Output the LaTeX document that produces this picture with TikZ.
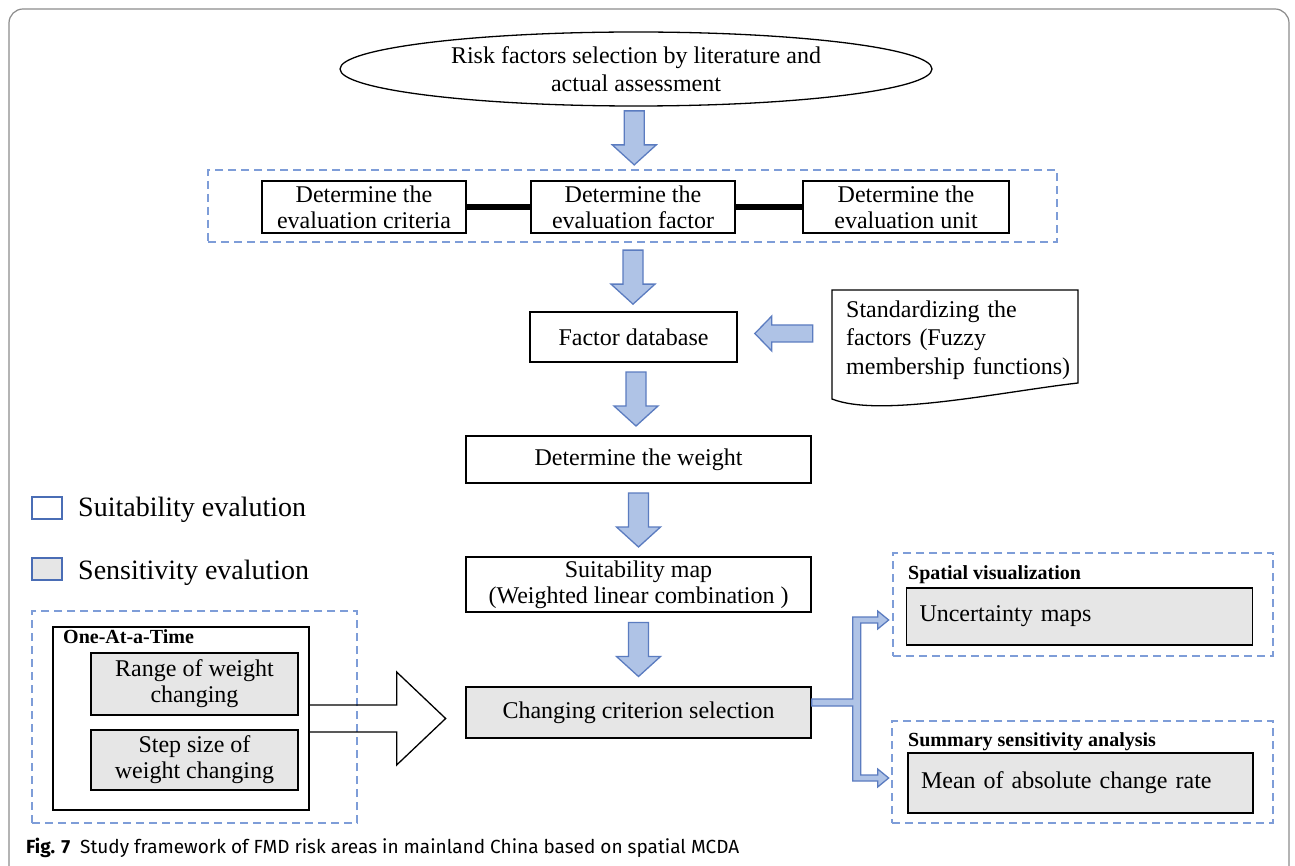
\documentclass[tikz,border=0pt]{standalone}
\usepackage{fontspec}
\setmainfont{Liberation Serif}
\newfontfamily\capfont{Fira Sans}
\usetikzlibrary{shapes.geometric,calc}
\definecolor{arrfill}{HTML}{AFC3E6}
\definecolor{arrdraw}{HTML}{5B7CC0}
\definecolor{dashcol}{HTML}{7E9DD8}
\definecolor{boxgray}{HTML}{E6E6E6}
\definecolor{legblue}{HTML}{4A6DB5}
\definecolor{framecol}{HTML}{8C8C8C}
\newcommand\downblk[1]{\draw[blk] #1 ++(-10,-27) -- ++(20,0) -- ++(0,34) -- ++(12,0) -- ++(-22,20) -- ++(-22,-20) -- ++(12,0) -- cycle;}
\begin{document}
\begin{tikzpicture}[x=1pt,y=-1pt,
  wbox/.style={draw=black, line width=1.3pt, fill=white, align=center, font=\fontsize{24}{27}\selectfont, inner sep=0pt},
  gbox/.style={wbox, fill=boxgray},
  dbox/.style={draw=dashcol, line width=1.8pt, dash pattern=on 8pt off 5pt, inner sep=0pt},
  blk/.style={draw=arrdraw, fill=arrfill, line width=1.3pt, line join=miter},
  lbl/.style={font=\bfseries\fontsize{20}{22}\selectfont, anchor=west, inner sep=0pt},
  legtxt/.style={font=\fontsize{28}{30}\selectfont, anchor=west, inner sep=0pt},
  legsq/.style={draw=legblue, line width=1.5pt, minimum width=30pt, minimum height=22pt, inner sep=0pt}]
\useasboundingbox (0,0) rectangle (1295,866);
\clip (0,0) rectangle (1295,866);
\fill[white] (0,0) rectangle (1295,866);
% outer frame
\draw[framecol, line width=1.2pt, rounded corners=14pt] (9,900) -- (9,9) -- (1289,9) -- (1289,900);

% top ellipse
\node[ellipse, draw=black, line width=1.3pt, minimum width=592pt, minimum height=74pt, inner sep=0pt, align=center, font=\fontsize{24}{28}\selectfont] (ell) at (636,69) {Risk factors selection by literature and\\actual assessment};

% row of three boxes
\node[dbox, minimum width=849pt, minimum height=72pt] (row) at (632.5,206) {};
\node[wbox, minimum width=204pt, minimum height=52pt, font=\fontsize{24}{26}\selectfont] (b1) at (364,207) {Determine the\\evaluation criteria};
\node[wbox, minimum width=204pt, minimum height=52pt, font=\fontsize{24}{26}\selectfont] (b2) at (633,207) {Determine the\\evaluation factor};
\node[wbox, minimum width=206pt, minimum height=52pt, font=\fontsize{24}{26}\selectfont] (b3) at (906,207) {Determine the\\evaluation unit};
\draw[line width=6pt] (b1.east) -- (b2.west);
\draw[line width=6pt] (b2.east) -- (b3.west);

% main column
\node[wbox, minimum width=207pt, minimum height=50pt] (fdb) at (633.5,337) {Factor database};
\node[wbox, minimum width=345pt, minimum height=47pt] (wt) at (638.5,459.5) {Determine the weight};
\node[wbox, minimum width=345pt, minimum height=55pt, font=\fontsize{24}{26}\selectfont] (suit) at (638.5,584.5) {Suitability map\\(Weighted linear combination )};
\node[gbox, minimum width=345pt, minimum height=51pt] (chg) at (638.5,712.5) {Changing criterion selection};

% document shape
\node[draw=none, anchor=west, text width=240pt, inner sep=0pt, align=left, font=\fontsize{24}{28.5}\selectfont] (std) at (846,340) {Standardizing the\\factors (Fuzzy\\membership functions)};
\draw[line width=1.3pt] ($(std.west)+(-14,-50)$) -- ++(246,0) -- ++(0,93) .. controls +(-78,9) and +(48,19) .. ($(std.west)+(-14,59)$) -- cycle;

% block arrows
\downblk{($(ell.south)!0.5!(row.north)$)}
\downblk{($(row.south)!0.5!(fdb.north)$)}
\downblk{($(fdb.south)!0.5!(wt.north)$)}
\downblk{($(wt.south)!0.5!(suit.north)$)}
\downblk{($(suit.south)!0.5!(chg.north)$)}
\draw[blk] ($(fdb.east)!0.5!(std.west)$) ++(-37,-5) -- ++(17,-17.5) -- ++(0,9) -- ++(41,0) -- ++(0,17) -- ++(-41,0) -- ++(0,9) -- cycle;

% legend
\node[legsq] (sq1) at (47,508) {};
\node[legtxt] (lg1) at (78,510) {Suitability evalution};
\node[legsq, fill=boxgray] (sq2) at (47,569) {};
\node[legtxt] (lg2) at (78,573) {Sensitivity evalution};

% one-at-a-time
\node[dbox, minimum width=325pt, minimum height=212pt] (oat) at (194.5,717) {};
\node[draw=black, line width=1.3pt, minimum width=256pt, minimum height=183pt, inner sep=0pt] (oatin) at (181,718.5) {};
\node[lbl] (oatl) at (63,637) {One-At-a-Time};
\node[gbox, minimum width=207pt, minimum height=62pt, font=\fontsize{24}{26}\selectfont] (rng) at (194.5,684) {Range of weight\\changing};
\node[gbox, minimum width=207pt, minimum height=60pt, font=\fontsize{24}{26}\selectfont] (stp) at (194.5,760) {Step size of\\weight changing};
\draw[line width=1.3pt, line join=miter] (oatin.east) ++(0,-13.5) -- ++(87,0) -- ++(0,-33) -- ++(49,46.5) -- ++(-49,46.5) -- ++(0,-33) -- ++(-87,0);

% right side
\node[dbox, minimum width=380pt, minimum height=103pt] (sp) at (1083,604.5) {};
\node[lbl] (spl) at (908,575) {Spatial visualization};
\node[gbox, text width=320pt, inner xsep=13pt, minimum height=57pt, align=left] (unc) at (1079.5,616.5) {Uncertainty maps};
\node[dbox, minimum width=381pt, minimum height=102pt] (su) at (1082.5,772) {};
\node[lbl] (sul) at (908,742) {Summary sensitivity analysis};
\node[gbox, text width=319pt, inner xsep=13pt, minimum height=60pt, align=left] (mean) at (1080.5,783) {Mean of absolute change rate};

% split arrow
\draw[blk] (chg.east) ++(0,-13.5) -- ++(41,0) -- ++(0,-82) -- ++(25,0) -- ++(0,-6) -- ++(11,9) -- ++(-11,9) -- ++(0,-6) -- ++(-17,0) -- ++(0,152) -- ++(17,0) -- ++(0,-6) -- ++(11,9) -- ++(-11,9) -- ++(0,-6) -- ++(-25,0) -- ++(0,-75) -- ++(-41,0) -- cycle;

% caption
\node[anchor=west, inner sep=0pt, font=\capfont\fontsize{19}{21}\selectfont] (cap) at (26,848) {\textbf{Fig. 7}\hspace{10pt}Study framework of FMD risk areas in mainland China based on spatial MCDA};
\end{tikzpicture}
\end{document}
